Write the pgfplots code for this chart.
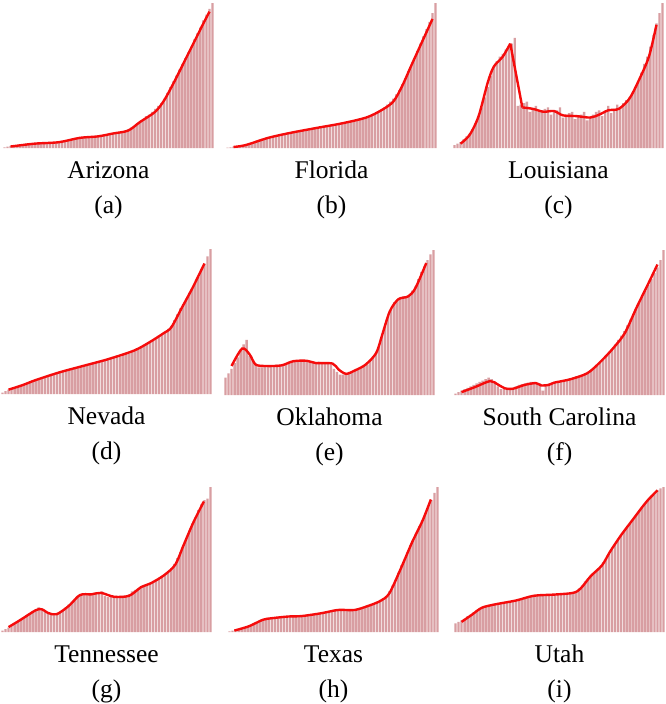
\documentclass[border=0pt]{standalone}
\usepackage{pgfplots}
\pgfplotsset{compat=1.18}
\usepackage{pgfplotstable}
\usepackage{fontspec}
\setmainfont{Liberation Serif}
\definecolor{barc}{RGB}{216,158,162}
\definecolor{linec}{RGB}{245,12,12}
\pgfplotstableread{
x a b c d e f g h i
0 0.5 0.3 2 1 12 1 1 0.5 6
1 1 0.5 3 2 15 2 2 1 7
2 1.5 1 4 3 18 3 3 1.5 8
3 2 1 6 3.5 22 4 5 2 9
4 2 1.5 8 4.5 26 5 6 2.5 11
5 2.5 2 10 5 31 6 7.5 3 12
6 2.5 2.5 13 6 35 7 9 4 13.5
7 3 3 17 6.5 38 8 10 5 15
8 3 3.5 22 7.5 27 9 11.5 6 16
9 3 4 28 8 24 10 13 7 17
10 3 4.5 35 9 21 11 14 8 17.5
11 3.5 5 42 9.5 19 12 15.5 8.5 18
12 3.5 6 50 10.5 19 11 17 9 18.5
13 4 6.5 56 11 20 9 16 9.5 19
14 4 7 60 12 20 6 14 9.5 19.5
15 4 7.5 63 12.5 20 4 13 10 20
16 4 8 65 13 20.5 4 12.5 10 20
17 4 8.5 68 14 21 4 12.5 10.5 20.5
18 4.5 9 70 14.5 21 4 12 10.5 21
19 5 9.5 72 15 21 5 13 10.5 21
20 5 10 76 15.5 22 6 15 11 21.5
21 5.5 10.5 29 16 23 7 17 11 22
22 6 11 30 16.5 23.5 7.5 19 11 22.5
23 6.5 11 31 17 24 8 21 11 23
24 7 11.5 32 17.5 24 8.5 23 11.5 24
25 7 12 25 18 24 9 25 11.5 24.5
26 7.5 12.5 27 19 23.5 9 26 12 25
27 7.5 13 29 19.5 23 8 26 12 25
28 8 13 25 20 23 8 26 12.5 25
29 8 13.5 26 20.5 22.5 3 26 13 25
30 8 14 27 21 22.5 7 26.5 13 25.5
31 8.5 14.5 28 21.5 23 8 27 13.5 25.5
32 9 14.5 23 22 22.5 8.5 27 14 25.5
33 9 15 25 22.5 22 9 28 14 25.5
34 9.5 15.5 26 23 22 9.5 25 14.5 26
35 10 16 28 24 21 10 24 15 26
36 10 16 21 24.5 18 10.5 24 15.5 26
37 10.5 16.5 23 25 16 11 24.5 15.5 26
38 11 17 24 25.5 14 11.5 25 15.5 26.5
39 11.5 17.5 25 26 14 12 25 15 27
40 12 18 20 27 15 13 25 15 28
41 13 18.5 22 27.5 16 13.5 24 15 30
42 14 19 23 28 16.5 14 26 15.5 32
43 15 19.5 25 29 17 15 28 16 35
44 17 20 19 30 18 16 29 16.5 37
45 18 20.5 21 31 19 17 30 17 39
46 20 21 23 32 20 18.5 31 18 41
47 22 22 25 33 21 20 32 19 43
48 23 23 26 34.5 24 22 33 20 45
49 25 24 22 36 27 24 34 21 48
50 27 25 25 37 30 27 35 22 51
51 29 26 29 38.5 35 29 36 23 54
52 31 28 24 40 42 32 37 25 57
53 34 30 27 41.5 49 35 38.5 28 61
54 38 32 30 43 55 38 40 32 64
55 42 34 28 45 60 41 42 36 67
56 46 37 31 47 64 44 44 41 70
57 50 40 33 51 66 48 47 46 73
58 54 44 35 55 67 52 51 50 75
59 58 48 38 59 68 56 55 55 78
60 62 53 42 62 68 60 60 60 81
61 66 57 46 66 69 64 65 64 84
62 70 62 52 70 72 68 70 68 86
63 75 67 58 73 75 72 75 73 89
64 79 72 63 77 80 76 79 77 92
65 83 77 70 81 85 80 84 82 94
66 88 82 78 86 89 84 88 87 96
67 92 87 86 90 93 88 91 91 98
68 96 93 93 95 97 93 92 96 99
69 100 100 100 100 100 100 100 100 100
}\bardata
\pgfplotsset{panel/.style={width=211pt,height=145pt,scale only axis,
  xmin=-0.5,xmax=69.5,ymin=0,ymax=100,hide axis,clip=false,anchor=north west}}
\newcommand\panelbars[1]{\addplot[ybar,bar width=2.4pt,fill=barc,draw=none] table[x=x,y=#1]{\bardata};}
\newcommand\paneltext[2]{%
  \node[anchor=base,font=\fontsize{25.5}{30}\selectfont,yshift=-30pt] at (rel axis cs:0.5,0) {#1};
  \node[anchor=base,font=\fontsize{25.5}{30}\selectfont,yshift=-65pt] at (rel axis cs:0.5,0) {#2};}
\tikzset{redline/.style={linec,line width=2.4pt}}
\begin{document}
\begin{tikzpicture}
\useasboundingbox (0,0) rectangle (666pt,-704pt);
% (a)
\begin{axis}[panel,at={(3pt,-3pt)}]
\panelbars{a}
\addplot[redline,smooth] coordinates {(2,1)(10,3)(18,4)(25,7)(31,8)(36,10)(41,12)(45,18)(50,25)(53,33)(56.4,46)(60,61)(63,73.5)(66,86)(68,94)};
\paneltext{Arizona}{(a)}
\end{axis}
% (b)
\begin{axis}[panel,at={(226pt,-3pt)}]
\panelbars{b}
\addplot[redline,smooth] coordinates {(2,0.7)(6,2)(13.5,7)(21,10.5)(30,14)(38,17)(46,21)(51,26)(55,32)(58,43)(61,57)(64.5,73)(68,89)};
\paneltext{Florida}{(b)}
\end{axis}
% (c)
\begin{axis}[panel,at={(453pt,-3pt)}]
\panelbars{c}
\addplot[redline,smooth] coordinates {(2,3)(5,9)(8,22)(11,45)(13,56)(16,63)(18.5,72)};
\addplot[redline] coordinates {(18.5,72)(22.5,28)};
\addplot[redline,smooth] coordinates {(22.5,28)(26,27)(29.5,25)(33,25.5)(36,22.5)(40.5,22)(45,21)(48,23)(51,26)(54.5,27)(58,34)(61,46)(64.5,63)(67,85)};
\paneltext{Louisiana}{(c)}
\end{axis}
% (d)
\begin{axis}[panel,at={(1pt,-249pt)}]
\panelbars{d}
\addplot[redline,smooth] coordinates {(2,3)(6.5,6)(11,9.6)(19,15)(27,19.5)(35,24)(43.7,30)(49,36)(53.5,42)(56,46)(59.5,59.5)(63,73)(67,90)};
\paneltext{Nevada}{(d)}
\end{axis}
% (e)
\begin{axis}[panel,at={(224pt,-250pt)}]
\panelbars{e}
\addplot[redline,smooth] coordinates {(2,20)(5.5,32)(8,28)(10,21)(13.5,20)(18.5,20.4)(22.5,23.3)(27,23.6)(30,22)(35.5,21.7)(37.5,17.6)(40,14.6)(43,17)(46.5,21)(50,29)(52,41.6)(54.5,57.7)(57.3,66)(60.6,68)(63,73.7)(66.6,91)};
\paneltext{Oklahoma}{(e)}
\end{axis}
% (f)
\begin{axis}[panel,at={(454pt,-250pt)}]
\panelbars{f}
\addplot[redline,smooth] coordinates {(2,2)(6.5,5.5)(11.5,9.6)(14,7.3)(16.4,4.6)(19,4.3)(23,7)(26.7,8.2)(28.4,6.6)(31,7)(32.7,8.5)(38,10.8)(43.7,15)(48,22.7)(52.4,32.5)(56.2,42.8)(60,60)(64,77)(67,90)};
\paneltext{South Carolina}{(f)}
\end{axis}
% (g)
\begin{axis}[panel,at={(1pt,-487pt)}]
\panelbars{g}
\addplot[redline,smooth] coordinates {(2,3.4)(6,8.4)(11,15)(13,15.7)(15.3,13)(18,12.3)(22,18)(25.7,25.5)(29.5,26)(32.7,27)(37,24.3)(42,25)(46,31)(49,33.4)(53.5,39)(57.3,46.4)(60,59.5)(63.3,75.5)(66.8,90)};
\paneltext{Tennessee}{(g)}
\end{axis}
% (h)
\begin{axis}[panel,at={(228pt,-487pt)}]
\panelbars{h}
\addplot[redline,smooth] coordinates {(1.6,1)(6.5,4)(11,8.4)(14,9.5)(19.6,10.7)(24,11)(30.6,13)(36,15.2)(41.5,15.2)(46,18)(50,21.4)(53,26.6)(56.8,43.6)(60.6,62)(64,76.6)(66.8,91.4)};
\paneltext{Texas}{(h)}
\end{axis}
% (i)
\begin{axis}[panel,at={(454pt,-487pt)}]
\panelbars{i}
\addplot[redline,smooth] coordinates {(2,7)(5.5,12)(8.7,16.7)(13,19)(20,21.7)(26,25)(32.7,25.8)(39,27)(41.5,30)(44.8,38.4)(48.6,46)(51.3,55.5)(55,67)(59,78)(63.3,89.7)(67,97.7)};
\paneltext{Utah}{(i)}
\end{axis}
\end{tikzpicture}
\end{document}
